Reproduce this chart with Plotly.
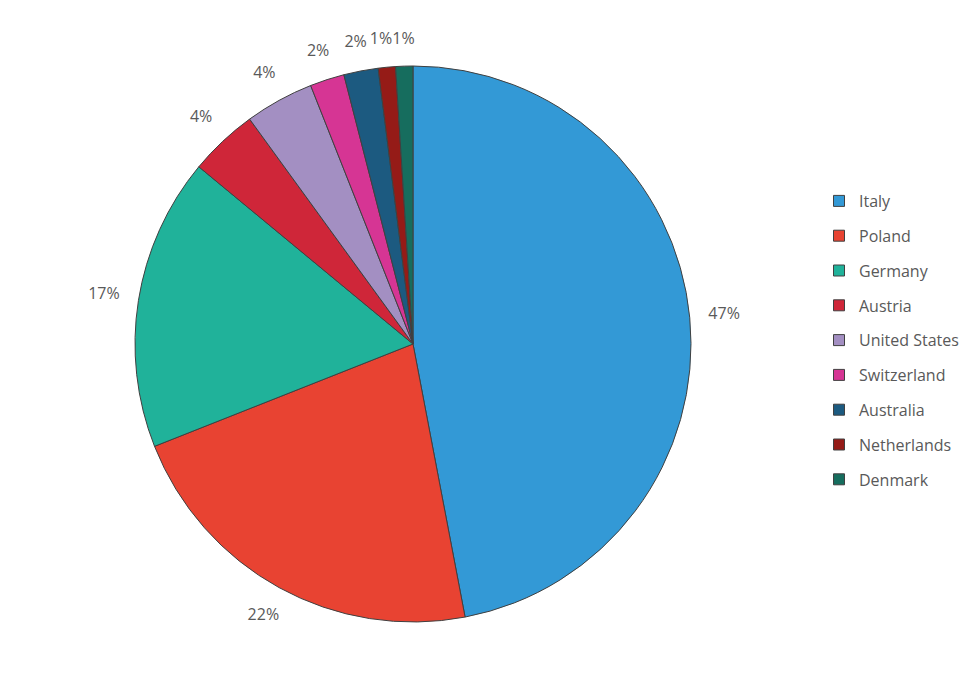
import math
import plotly.graph_objects as go

countries = ["Italy", "Poland", "Germany", "Austria", "United States",
             "Switzerland", "Australia", "Netherlands", "Denmark"]
shares = [47, 22, 17, 4, 4, 2, 2, 1, 1]
colors = ["#3399D6", "#E84332", "#20B29A", "#CF2639", "#A38FC2",
          "#D63594", "#1C5A80", "#951B17", "#166D5E"]

W, H = 974, 687
FONT = "Open Sans"
GREY = "#595959"
FS = 16

# pie placement (figure pixels)
cx, cy, r = 405, 336, 278
RP = 330          # radius of the (invisible) polar frame used for labels
GAP = 18          # gap between pie edge and label box
dom = dict(x=[(cx - r) / W, (cx + r) / W], y=[1 - (cy + r) / H, 1 - (cy - r) / H])
pdom = dict(x=[(cx - RP) / W, (cx + RP) / W], y=[1 - (cy + RP) / H, 1 - (cy - RP) / H])

fig = go.Figure()
fig.add_trace(go.Pie(
    labels=countries,
    values=shares,
    sort=False,
    direction="clockwise",
    rotation=0,
    marker=dict(colors=colors, line=dict(color="#404040", width=1)),
    textposition="none",
    domain=dom,
    showlegend=False,
    hoverinfo="label+percent",
))

# percentage labels placed just outside each slice (label box kept clear of the edge)
total = sum(shares)
pct_text, lx, ly, lw = [], [], [], []
run = 0
lh = FS * 1.0
for v in shares:
    t = f"{round(v / total * 100)}%"
    w = sum(0.834 * FS if ch == "%" else 0.572 * FS for ch in t)
    a = math.radians((run + v / 2) / total * 360)
    s, c = math.sin(a), math.cos(a)
    d = r + GAP + abs(s) * w / 2 + abs(c) * lh / 2
    pct_text.append(t)
    lx.append(d * s)
    ly.append(d * c)
    lw.append(w)
    run += v
# push neighbouring labels apart along the top of the pie
for i in range(len(shares) - 2, -1, -1):
    if ly[i] > 0 and ly[i + 1] > 0 and abs(ly[i] - ly[i + 1]) < lh:
        need = (lw[i] + lw[i + 1]) / 2
        if lx[i + 1] - lx[i] < need:
            lx[i] = lx[i + 1] - need
lab_r = [math.hypot(x, y) / r for x, y in zip(lx, ly)]
lab_t = [math.degrees(math.atan2(x, y)) % 360 for x, y in zip(lx, ly)]

fig.add_trace(go.Scatterpolar(
    r=lab_r, theta=lab_t, text=pct_text,
    mode="text", textposition="middle center",
    textfont=dict(color=GREY, size=FS, family=FONT),
    cliponaxis=False, showlegend=False, hoverinfo="skip",
))

# legend entries built from the same category / colour arrays
for name, col in zip(countries, colors):
    fig.add_trace(go.Scatter(
        x=[None], y=[None], mode="markers", name=name, legendgroup=name,
        marker=dict(symbol="square", size=11, color=col,
                    line=dict(color="#404040", width=1)),
        showlegend=True, hoverinfo="skip",
    ))

fig.update_layout(
    width=W, height=H,
    margin=dict(l=0, r=0, t=0, b=0),
    paper_bgcolor="white",
    plot_bgcolor="white",
    font=dict(family=FONT, color=GREY, size=FS),
    xaxis=dict(visible=False),
    yaxis=dict(visible=False),
    polar=dict(
        domain=pdom,
        bgcolor="rgba(0,0,0,0)",
        radialaxis=dict(visible=False, range=[0, RP / r]),
        angularaxis=dict(visible=False, rotation=90, direction="clockwise"),
    ),
    showlegend=True,
    legend=dict(x=811 / W, y=1 - 176 / H, xanchor="left", yanchor="top",
                font=dict(size=FS, color=GREY, family=FONT),
                tracegroupgap=11, bgcolor="rgba(0,0,0,0)"),
)

fig.write_html("out.html")
